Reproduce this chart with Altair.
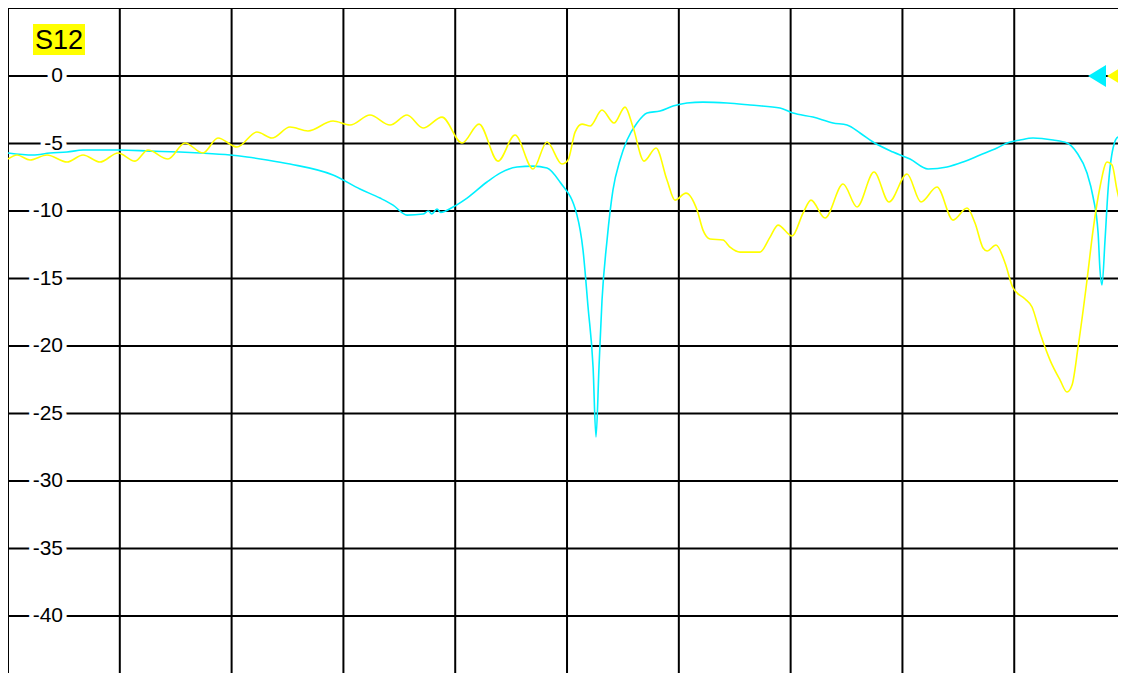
import altair as alt
import pandas as pd

# ---- data (x in screen divisions, y in dB) ----
yellow_x = [0.0, 0.081, 0.197, 0.349, 0.528, 0.671, 0.823, 0.984, 1.136, 1.252,
            1.431, 1.583, 1.744, 1.878, 2.048, 2.227, 2.361, 2.522, 2.683, 2.907,
            3.059, 3.238, 3.417, 3.569, 3.712, 3.882, 4.061, 4.213, 4.383, 4.535,
            4.696, 4.821, 4.955, 5.009, 5.072, 5.134, 5.206, 5.313, 5.420, 5.519,
            5.590, 5.689, 5.796, 5.894, 5.966, 6.064, 6.163, 6.216, 6.279, 6.395,
            6.458, 6.547, 6.726, 6.816, 6.887, 7.013, 7.111, 7.182, 7.308, 7.469,
            7.594, 7.746, 7.880, 8.041, 8.166, 8.309, 8.453, 8.578, 8.649, 8.721,
            8.757, 8.837, 8.918, 8.989, 9.097, 9.159, 9.231, 9.320, 9.410, 9.472,
            9.517, 9.571, 9.651, 9.705, 9.767, 9.830, 9.875, 9.919, 9.964, 10.0]
yellow_db = [-6.15, -5.85, -6.22, -5.85, -6.37, -5.85, -6.37, -5.70, -6.30, -5.48,
             -6.15, -4.96, -5.70, -4.59, -5.26, -4.15, -4.59, -3.78, -4.07, -3.33,
             -3.63, -2.89, -3.63, -2.89, -3.85, -3.04, -4.96, -3.56, -6.30, -4.37,
             -6.89, -4.89, -6.52, -6.22, -4.15, -3.56, -3.70, -2.52, -3.48, -2.30,
             -3.78, -6.30, -5.33, -7.70, -9.19, -8.67, -9.93, -11.41, -12.07, -12.15,
             -12.67, -13.04, -13.04, -11.93, -11.04, -11.85, -10.15, -9.19, -10.52, -8.00,
             -9.70, -7.11, -9.33, -7.26, -9.33, -8.22, -10.67, -9.78, -10.89, -12.74,
             -12.96, -12.52, -13.85, -15.70, -16.52, -17.11, -19.04, -21.04, -22.52, -23.41,
             -22.89, -20.07, -15.11, -11.41, -8.22, -6.37, -6.59, -8.44, -9.93, -11.11]

cyan_x = [0.0, 0.224, 0.376, 0.528, 0.671, 0.823, 1.002, 1.270, 1.538, 1.717,
          1.986, 2.138, 2.317, 2.522, 2.907, 3.148, 3.327, 3.444, 3.569, 3.712,
          3.760, 3.790, 3.837, 3.870, 3.980, 4.106, 4.284, 4.401, 4.553, 4.696,
          4.821, 4.937, 5.089, 5.143, 5.188, 5.233, 5.259, 5.286, 5.313, 5.358,
          5.411, 5.474, 5.537, 5.626, 5.716, 5.832, 5.948, 6.073, 6.216, 6.431,
          6.637, 6.905, 7.021, 7.200, 7.379, 7.504, 7.621, 7.737, 7.916, 8.068,
          8.229, 8.399, 8.542, 8.694, 8.846, 8.936, 9.052, 9.168, 9.347, 9.472,
          9.562, 9.651, 9.705, 9.750, 9.767, 9.785, 9.812, 9.839, 9.884, 9.928, 10.0]
cyan_db = [-5.70, -5.85, -5.70, -5.63, -5.48, -5.48, -5.48, -5.56, -5.63, -5.70,
           -5.85, -6.00, -6.22, -6.52, -7.33, -8.37, -9.04, -9.56, -10.30, -10.22,
           -10.00, -10.22, -9.85, -10.10, -9.70, -9.04, -7.85, -7.19, -6.74, -6.67,
           -6.81, -7.85, -10.30, -12.89, -17.11, -21.56, -26.74, -21.56, -16.59, -12.15,
           -8.44, -6.22, -4.74, -3.48, -2.74, -2.59, -2.22, -2.00, -1.93, -2.00,
           -2.15, -2.37, -2.74, -3.04, -3.48, -3.63, -4.22, -4.89, -5.63, -6.15,
           -6.89, -6.74, -6.37, -5.85, -5.33, -4.96, -4.74, -4.59, -4.74, -4.96,
           -5.70, -7.19, -8.96, -11.63, -14.37, -15.48, -12.15, -8.44, -5.33, -4.52, -4.44]

y_tick_values = [0, -5, -10, -15, -20, -25, -30, -35, -40]
y_grid_values = [5.04, 0, -5, -10, -15, -20, -25, -30, -35, -40]
x_grid_values = [0, 1, 2, 3, 4, 5, 6, 7, 8, 9]
trace_label = ["S12"]
reference_level = [0]

# ---- tables ----
yellow_df = pd.DataFrame({"x": yellow_x, "db": yellow_db})
cyan_df = pd.DataFrame({"x": cyan_x, "db": cyan_db})
ytick_df = pd.DataFrame({"db": y_tick_values, "label": [str(v) for v in y_tick_values]})
ygrid_df = pd.DataFrame({"db": y_grid_values})
xgrid_df = pd.DataFrame({"x": x_grid_values})
label_df = pd.DataFrame({"name": trace_label})
ref_df = pd.DataFrame({"db": reference_level})

# plot area fills the page inside its 8px margin
W, H = 1110, 665
X_DOMAIN = [0, 9.928]
Y_DOMAIN = [-44.22, 5.04]
FONT = "Liberation Sans"

xs = alt.Scale(domain=X_DOMAIN, nice=False, zero=False)
ys = alt.Scale(domain=Y_DOMAIN, nice=False, zero=False)

vgrid = alt.Chart(xgrid_df).mark_rule(color="#000000", strokeWidth=2).encode(
    x=alt.X("x:Q", scale=xs, axis=None)
)
hgrid = alt.Chart(ygrid_df).mark_rule(color="#000000", strokeWidth=2).encode(
    y=alt.Y("db:Q", scale=ys, axis=None)
)

halo = alt.Chart(ytick_df).mark_text(
    align="right", baseline="middle", font=FONT, fontSize=21,
    fill="white", stroke="white", strokeWidth=9
).encode(
    x=alt.value(55),
    y=alt.Y("db:Q", scale=ys, axis=None),
    text="label:N",
)
ticklabels = alt.Chart(ytick_df).mark_text(
    align="right", baseline="middle", font=FONT, fontSize=21, color="black"
).encode(
    x=alt.value(55),
    y=alt.Y("db:Q", scale=ys, axis=None),
    text="label:N",
)

label_box = alt.Chart(label_df).mark_rect(color="#FFFF00").encode(
    x=alt.value(25), x2=alt.value(77), y=alt.value(16), y2=alt.value(47)
)
label_text = alt.Chart(label_df).mark_text(
    align="center", baseline="middle", font=FONT, fontSize=27, color="black"
).encode(
    x=alt.value(51), y=alt.value(32.5), text="name:N"
)

cyan_line = alt.Chart(cyan_df).mark_line(
    color="#00F0FF", strokeWidth=1.6, interpolate="monotone", clip=True
).encode(
    x=alt.X("x:Q", scale=xs, axis=None),
    y=alt.Y("db:Q", scale=ys, axis=None),
)
yellow_line = alt.Chart(yellow_df).mark_line(
    color="#FFFF00", strokeWidth=1.6, interpolate="monotone", clip=True
).encode(
    x=alt.X("x:Q", scale=xs, axis=None),
    y=alt.Y("db:Q", scale=ys, axis=None),
)

tri = "M -1 0 L 1 -1.22 L 1 1.22 Z"
cyan_marker = alt.Chart(ref_df).mark_point(
    shape=tri, filled=True, color="#00F0FF", size=324, opacity=1, strokeWidth=0
).encode(
    x=alt.value(1089), y=alt.Y("db:Q", scale=ys, axis=None)
)
yellow_marker = alt.Chart(ref_df).mark_point(
    shape=tri, filled=True, color="#FFFF00", size=324, opacity=1, strokeWidth=0
).encode(
    x=alt.value(1108), y=alt.Y("db:Q", scale=ys, axis=None)
)

chart = alt.layer(
    vgrid, hgrid, halo, ticklabels, label_box, label_text,
    cyan_line, yellow_line, cyan_marker, yellow_marker
).properties(
    width=W, height=H, padding=0, background="white",
    autosize=alt.AutoSizeParams(type="none")
).configure_view(stroke="transparent", strokeWidth=0)

chart.save("out.html", embed_options={"renderer": "svg", "actions": False})
